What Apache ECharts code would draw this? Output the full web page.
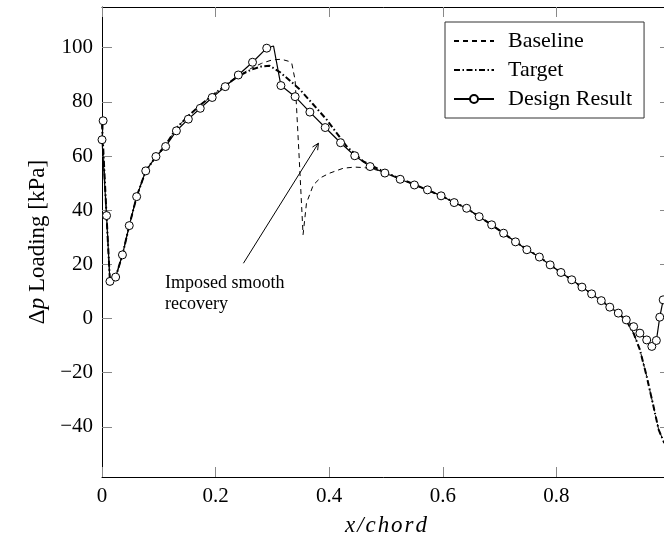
<!DOCTYPE html>
<html><head><meta charset="utf-8">
<script src="https://cdn.jsdelivr.net/npm/echarts@6/dist/echarts.min.js"></script>
<style>html,body{margin:0;padding:0;background:#fff;}#c{width:664px;height:557px;}</style>
</head><body><div id="c"></div>
<script>
// ---- data ----
const designX = [0.002, 0.0, 0.008, 0.014, 0.024, 0.036, 0.048, 0.061, 0.077, 0.095, 0.112, 0.131, 0.152, 0.173, 0.194, 0.217, 0.240, 0.265, 0.290, 0.302, 0.315, 0.340, 0.366, 0.393, 0.420, 0.445, 0.472, 0.498, 0.525, 0.550, 0.573, 0.597, 0.620, 0.642, 0.664, 0.686, 0.707, 0.728, 0.748, 0.770, 0.789, 0.808, 0.827, 0.845, 0.862, 0.879, 0.894, 0.909, 0.923, 0.936, 0.947, 0.959, 0.968, 0.976, 0.982, 0.988];
const designY = [73, 66, 38, 13.7, 15.3, 23.5, 34.3, 45, 54.5, 59.8, 63.5, 69.3, 73.6, 77.6, 81.6, 85.6, 89.9, 94.6, 99.8, 100.6, 86, 81.9, 76.2, 70.5, 64.9, 60.1, 56.1, 53.7, 51.4, 49.3, 47.5, 45.3, 42.8, 40.7, 37.6, 34.6, 31.5, 28.3, 25.4, 22.7, 19.8, 17, 14.3, 11.6, 9.1, 6.6, 4.2, 2, -0.5, -3, -5.4, -7.9, -10.3, -8.1, 0.5, 6.9];
const designMarkerHidden = [0.302];

const targetX = [0.0, 0.008, 0.014, 0.024, 0.036, 0.048, 0.061, 0.077, 0.095, 0.112, 0.131, 0.152, 0.173, 0.194, 0.217, 0.240, 0.262, 0.280, 0.295, 0.313, 0.330, 0.349, 0.372, 0.396, 0.431, 0.460, 0.498, 0.550, 0.597, 0.642, 0.686, 0.728, 0.770, 0.808, 0.845, 0.879, 0.909, 0.924, 0.936, 0.947, 0.959, 0.971, 0.980, 0.990];
const targetY = [72, 38, 13.7, 15.3, 23.5, 34.3, 45, 54.5, 59.8, 64, 70.3, 74.8, 78.8, 82.3, 86, 89.5, 91.8, 93.0, 93.3, 91, 88, 84.4, 79, 73.3, 63.5, 58, 54, 49.5, 45.3, 40.7, 34.6, 28.3, 22.7, 17, 11.6, 6.6, 2, -1.1, -5.5, -11.5, -21.4, -32.5, -41, -46];

const baselineX = [0.0, 0.008, 0.014, 0.024, 0.036, 0.048, 0.061, 0.077, 0.095, 0.112, 0.131, 0.152, 0.173, 0.194, 0.217, 0.240, 0.262, 0.281, 0.300, 0.316, 0.328, 0.334, 0.340, 0.347, 0.354, 0.360, 0.372, 0.385, 0.400, 0.425, 0.445, 0.462, 0.480, 0.498, 0.550, 0.597, 0.642, 0.686, 0.728, 0.770, 0.808, 0.845, 0.879, 0.909, 0.924, 0.936, 0.947, 0.959, 0.971, 0.980, 0.990];
const baselineY = [72, 38, 13.7, 15.3, 23.5, 34.3, 45, 54.5, 59.8, 64, 70.3, 74.8, 78.8, 82.3, 86, 89.5, 92.3, 94.2, 95.5, 95.7, 95, 94.3, 88, 60, 31, 42.6, 49.3, 52, 53.6, 55.5, 55.9, 55.7, 55, 54, 49.5, 45.3, 40.7, 34.6, 28.3, 22.7, 17, 11.6, 6.6, 2, -1.1, -5.5, -11.5, -21.4, -32.5, -41, -46];

const xTicks = [0, 0.2, 0.4, 0.6, 0.8, 1];
const yTicks = [-40, -20, 0, 20, 40, 60, 80, 100];
const seriesNames = ['Baseline', 'Target', 'Design Result'];
const annotationLines = ['Imposed smooth', 'recovery'];
const arrowFrom = [0.249, 20.4];
const arrowTo = [0.381, 64.7];

// ---- chart ----
const FONT = '"Liberation Serif", "DejaVu Serif", serif';
const zip = (xs, ys) => xs.map((x, i) => [x, ys[i]]);
const chart = echarts.init(document.getElementById('c'), null, {renderer: 'canvas'});
const fmtY = v => v < 0 ? '\u2212' + Math.abs(v) : String(v);
const fmtX = v => String(Math.round(v * 10) / 10);

const tickStyle = {show: true, inside: true, length: 10, lineStyle: {color: '#888', width: 1}};
const lineAxis = {show: true, onZero: false, lineStyle: {color: '#000', width: 1}};

const designData = designX.map((x, i) => {
  const item = {value: [x, designY[i]]};
  if (designMarkerHidden.includes(x)) item.symbol = 'none';
  return item;
});

chart.setOption({
  animation: false,
  backgroundColor: '#fff',
  grid: {left: 102, top: 7, right: -6, bottom: 80, containLabel: false, outerBoundsMode: 'none'},
  xAxis: [
    {type: 'value', min: 0, max: 1, position: 'bottom',
     axisLine: lineAxis, splitLine: {show: false},
     axisTick: Object.assign({customValues: xTicks}, tickStyle),
     axisLabel: {customValues: xTicks, formatter: fmtX, fontFamily: FONT, fontSize: 21, color: '#000', margin: 9},
     name: 'x/chord'.split('').join('\u200A'), nameLocation: 'middle', nameGap: 37,
     nameTextStyle: {fontFamily: FONT, fontStyle: 'italic', fontSize: 23, color: '#000'}},
    {type: 'value', min: 0, max: 1, position: 'top',
     axisLine: lineAxis, splitLine: {show: false},
     axisTick: Object.assign({customValues: xTicks}, tickStyle),
     axisLabel: {show: false}}
  ],
  yAxis: [
    {type: 'value', min: -58.5, max: 115, position: 'left',
     axisLine: lineAxis, splitLine: {show: false},
     axisTick: Object.assign({customValues: yTicks}, tickStyle),
     axisLabel: {customValues: yTicks, formatter: fmtY, fontFamily: FONT, fontSize: 21, color: '#000', margin: 9},
     name: '{n|\u0394}{i|p}{n| Loading [kPa]}', nameLocation: 'middle', nameGap: 53, nameRotate: 90,
     nameTextStyle: {fontFamily: FONT, fontSize: 23, color: '#000',
       rich: {n: {fontFamily: FONT, fontSize: 23, color: '#000'}, i: {fontFamily: FONT, fontSize: 23, fontStyle: 'italic', color: '#000'}}}},
    {type: 'value', min: -58.5, max: 115, position: 'right',
     axisLine: lineAxis, splitLine: {show: false},
     axisTick: Object.assign({customValues: yTicks}, tickStyle),
     axisLabel: {show: false}}
  ],
  legend: {
    orient: 'vertical', left: 445, top: 22,
    data: [
      {name: seriesNames[0], itemStyle: {opacity: 0}},
      {name: seriesNames[1], itemStyle: {opacity: 0}},
      {name: seriesNames[2]}
    ],
    backgroundColor: '#fff', borderColor: '#333', borderWidth: 1, borderRadius: 0,
    padding: [8, 12, 8, 8], itemGap: 7, itemWidth: 40, itemHeight: 10,
    selectedMode: false,
    textStyle: {fontFamily: FONT, fontSize: 22, color: '#000', lineHeight: 22, padding: [0, 0, 0, 9]}
  },
  series: [
    {name: seriesNames[0], type: 'line', data: zip(baselineX, baselineY), symbol: 'none', showSymbol: false,
     lineStyle: {color: '#000', width: 1, type: [5, 4]}, itemStyle: {color: '#000'}, z: 2, silent: true},
    {name: seriesNames[1], type: 'line', data: zip(targetX, targetY), symbol: 'none', showSymbol: false,
     lineStyle: {color: '#000', width: 2, type: [6, 2.5, 1.5, 2.5]}, itemStyle: {color: '#000'}, z: 3, silent: true},
    {name: seriesNames[2], type: 'line', data: designData, symbol: 'circle', symbolSize: 8, showSymbol: true,
     lineStyle: {color: '#000', width: 1.2}, itemStyle: {color: '#fff', borderColor: '#000', borderWidth: 1},
     z: 5, silent: true}
  ]
});

// annotation: text + open arrow, positioned via the axes
const p1 = chart.convertToPixel({xAxisIndex: 0, yAxisIndex: 0}, arrowFrom);
const p2 = chart.convertToPixel({xAxisIndex: 0, yAxisIndex: 0}, arrowTo);
const ang = Math.atan2(p2[1] - p1[1], p2[0] - p1[0]);
const L = 7, spread = 0.45;
const wing = s => [p2[0] - L * Math.cos(ang + s), p2[1] - L * Math.sin(ang + s)];
chart.setOption({
  graphic: [
    {type: 'line', shape: {x1: p1[0], y1: p1[1], x2: p2[0], y2: p2[1]}, style: {stroke: '#000', lineWidth: 1}, z: 10},
    {type: 'polyline', shape: {points: [wing(spread), p2, wing(-spread)]}, style: {stroke: '#000', lineWidth: 1, fill: null}, z: 10},
    {type: 'text', left: 165, top: 273, z: 10,
     style: {text: annotationLines.join('\n'), font: '18px ' + FONT, fill: '#000', lineHeight: 21}}
  ]
});
</script>
</body></html>
